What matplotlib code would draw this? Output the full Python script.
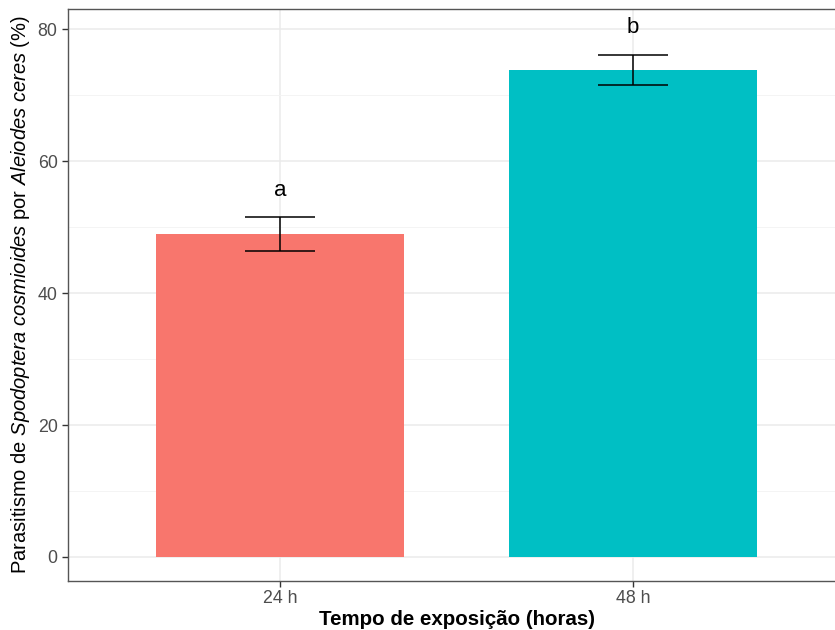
import matplotlib
matplotlib.use("Agg")
import matplotlib.pyplot as plt
from matplotlib.ticker import MultipleLocator

plt.rcParams["mathtext.fontset"] = "custom"
plt.rcParams["mathtext.it"] = "Liberation Sans:italic"
plt.rcParams["mathtext.rm"] = "Liberation Sans"

categories = ["24 h", "48 h"]
means = [48.9, 73.8]
errors = [2.6, 2.3]
letters = ["a", "b"]
colors = ["#F8766D", "#00BFC4"]

W, H = 835, 630
fig = plt.figure(figsize=(W / 100, H / 100), dpi=100)
left, right, top, bottom = 68, 845, 9, 581
ax = fig.add_axes([left / W, 1 - bottom / H, (right - left) / W, (bottom - top) / H])

x = [1, 2]
ax.set_axisbelow(True)
ax.bar(x, means, width=0.7, color=colors, zorder=2)
ax.errorbar(x, means, yerr=errors, fmt="none", ecolor="black", elinewidth=1.1,
            capsize=25.5, capthick=1.1, zorder=3)
for xi, m, e, lab in zip(x, means, errors, letters):
    ax.text(xi, m + e + 4.1, lab, ha="center", va="center", fontsize=16,
            family="Liberation Sans", zorder=4)

ax.set_xlim(0.4, 2.6)
ax.set_ylim(-3.64, 83.04)
ax.set_xticks(x)
ax.set_xticklabels(categories)
ax.yaxis.set_major_locator(MultipleLocator(20))
ax.yaxis.set_minor_locator(MultipleLocator(10))
ax.grid(which="major", color="#EBEBEB", linewidth=1.1)
ax.grid(which="minor", axis="y", color="#F3F3F3", linewidth=0.6)
for s in ax.spines.values():
    s.set_color("#555555")
    s.set_linewidth(1.0)
ax.tick_params(axis="both", which="major", colors="#333333", length=4,
               width=1, labelsize=12.8, labelcolor="#4D4D4D")
ax.tick_params(axis="x", which="major", pad=2.5)
ax.tick_params(axis="y", which="minor", length=0)
for lab in ax.get_xticklabels() + ax.get_yticklabels():
    lab.set_family("Liberation Sans")

ax.set_xlabel("Tempo de exposição (horas)", fontsize=14.8, fontweight="bold",
              family="Liberation Sans", labelpad=2)
ax.set_ylabel(r"Parasitismo de $\mathit{Spodoptera\ cosmioides}$ por $\mathit{Aleiodes\ ceres}$ (%)",
              fontsize=14.5, family="Liberation Sans", labelpad=4)

fig.savefig("out.png", dpi=100)
